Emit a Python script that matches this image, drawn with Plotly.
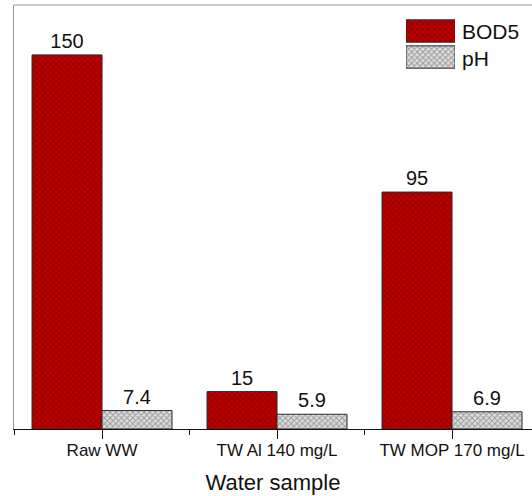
import plotly.graph_objects as go

categories = ["Raw WW", "TW Al 140 mg/L", "TW MOP 170 mg/L"]
bod5 = [150, 15, 95]
ph = [7.4, 5.9, 6.9]
series_names = ["BOD5", "pH"]

FONT = "Liberation Sans, Arial, sans-serif"
red_pat = dict(shape="x", fgcolor="#6e0000", bgcolor="#b80000", size=4, solidity=0.4)
gray_pat = dict(shape="x", fgcolor="#555555", bgcolor="#dedede", size=4, solidity=0.45)
line = dict(color="#2a2a2a", width=1)

xpos = list(range(len(categories)))

fig = go.Figure()
fig.add_trace(go.Bar(
    x=xpos, y=bod5, name=series_names[0],
    marker=dict(color="#b80000", pattern=red_pat, line=line),
    text=[str(v) for v in bod5], textposition="outside",
    textfont=dict(size=20, color="#111", family=FONT), cliponaxis=False,
    showlegend=False,
))
fig.add_trace(go.Bar(
    x=xpos, y=ph, name=series_names[1],
    marker=dict(color="#dedede", pattern=gray_pat, line=line),
    text=[str(v) for v in ph], textposition="outside",
    textfont=dict(size=20, color="#111", family=FONT), cliponaxis=False,
    showlegend=False,
))

# legend swatches on an auxiliary axis pair
fig.add_trace(go.Bar(
    x=[1], y=[1], orientation="h", width=0.86, offset=-0.43,
    marker=dict(color="#b80000", pattern=red_pat, line=line),
    xaxis="x2", yaxis="y2", showlegend=False, hoverinfo="skip",
))
fig.add_trace(go.Bar(
    x=[1], y=[0], orientation="h", width=0.86, offset=-0.43,
    marker=dict(color="#dedede", pattern=gray_pat, line=line),
    xaxis="x2", yaxis="y2", showlegend=False, hoverinfo="skip",
))

W, H = 532, 496
ml, mr, mt, mb = 14, 0, 5, 67
pw, ph_ = W - ml - mr, H - mt - mb


def px_x(x):
    return (x - ml) / pw


def px_y(y):
    return (H - mb - y) / ph_


fig.update_layout(
    width=W, height=H,
    margin=dict(l=ml, r=mr, t=mt, b=mb),
    paper_bgcolor="white", plot_bgcolor="white",
    barmode="group", bargap=0.2, bargroupgap=0,
    font=dict(family=FONT, size=17, color="#111"),
    xaxis=dict(
        range=[-0.503, 2.457], tickmode="array", tickvals=xpos, ticktext=categories,
        showline=True, linecolor="#111", linewidth=1.2,
        ticks="outside", ticklen=9, tickwidth=1.2, tickcolor="#111",
        ticklabelstandoff=-4,
        minor=dict(tickmode="linear", tick0=-0.5, dtick=1, ticks="outside",
                   ticklen=5, tickwidth=1.2, tickcolor="#111"),
        showgrid=False, zeroline=False,
        tickfont=dict(size=17, color="#111"),
        title=dict(text="Water sample", font=dict(size=22, color="#111"), standoff=16),
    ),
    yaxis=dict(
        range=[0, 170], showticklabels=False, ticks="", showgrid=False,
        zeroline=False, showline=True, linecolor="#9a9a9a", linewidth=1.2,
    ),
    xaxis2=dict(domain=[px_x(406), px_x(455)], range=[0, 1], visible=False,
                anchor="y2", fixedrange=True),
    yaxis2=dict(domain=[px_y(70), px_y(18)], range=[-0.5, 1.5], visible=False,
                anchor="x2", fixedrange=True),
    shapes=[dict(type="line", xref="paper", yref="paper", x0=0, x1=1, y0=1, y1=1,
                 line=dict(color="#9a9a9a", width=1.2))],
    annotations=[
        dict(text=series_names[0], xref="paper", yref="paper", x=px_x(460), y=px_y(31),
             xanchor="left", yanchor="middle", showarrow=False,
             font=dict(size=21, color="#111")),
        dict(text=series_names[1], xref="paper", yref="paper", x=px_x(460), y=px_y(58),
             xanchor="left", yanchor="middle", showarrow=False,
             font=dict(size=21, color="#111")),
    ],
)

fig.write_html(
    "out.html",
    config={"displayModeBar": False},
    post_script="document.body.style.margin='0';document.body.style.overflow='hidden';",
)
